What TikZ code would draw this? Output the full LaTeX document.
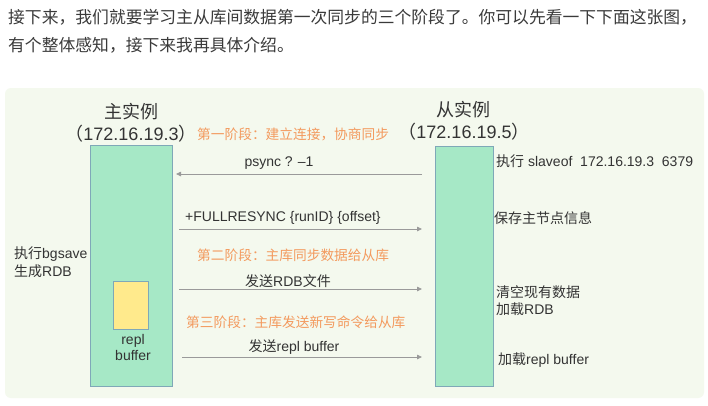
\documentclass[tikz,border=0pt]{standalone}
\usepackage{fontspec}
\setmainfont{Liberation Sans}
\newfontfamily\cjk{Noto Sans CJK SC}
\usetikzlibrary{arrows.meta}
\definecolor{panel}{HTML}{F4F9EE}
\definecolor{barfill}{HTML}{A6E8C6}
\definecolor{barline}{HTML}{7FA8B8}
\definecolor{buf}{HTML}{FFEA8C}
\definecolor{phase}{HTML}{F39A5E}
\definecolor{arr}{HTML}{9A9A9A}
\definecolor{txt}{HTML}{333333}
\definecolor{intro}{HTML}{3A3A3A}
\tikzset{
  bar/.style={draw=barline, fill=barfill, line width=1pt, inner sep=0pt},
  bufbox/.style={draw=barline, fill=buf, line width=0.9pt, inner sep=0pt},
  title/.style={font=\fontsize{18}{19}\selectfont, text=txt, inner sep=0pt},
  phaselbl/.style={font=\cjk\fontsize{13.7}{15}\selectfont, text=phase, inner sep=0pt},
  lbl/.style={font=\fontsize{14}{15}\selectfont, text=txt, inner sep=0pt},
  msg/.style={draw=arr, line width=0.8pt, -{Triangle[length=5pt,width=4.5pt]}},
  introtxt/.style={font=\cjk\fontsize{16.8}{18}\selectfont, text=intro, inner sep=0pt, anchor=west}
}
\begin{document}
\begin{tikzpicture}[x=1pt,y=-1pt]
\useasboundingbox (0,0) rectangle (708,405);
\fill[white] (0,0) rectangle (708,405);
% intro text
\node[introtxt] (l1) at (8,17) {接下来，我们就要学习主从库间数据第一次同步的三个阶段了。你可以先看一下下面这张图，};
\node[introtxt] (l2) at (8,45) {有个整体感知，接下来我再具体介绍。};
% panel
\fill[panel, rounded corners=6pt] (5,88) rectangle (704,398);
% bars
\node[bar, minimum width=82pt, minimum height=241pt] (master) at (131,265.5) {};
\node[bar, minimum width=58pt, minimum height=240pt] (slave) at (464,266) {};
\node[bufbox, minimum width=35pt, minimum height=48pt] (buffer) at (130.5,305) {};
\node[lbl, align=center, font=\fontsize{14}{16}\selectfont] (buflbl) at (133,347) {repl\\buffer};
% titles
\node[title] (mt1) at (131,112) {\cjk 主实例};
\node[title] (mt2) at (131,134) {{\cjk（}172.16.19.3{\cjk）}};
\node[title] (st1) at (463,110) {\cjk 从实例};
\node[title] (st2) at (464,132) {{\cjk（}172.16.19.5{\cjk）}};
% phase labels
\node[phaselbl, anchor=west] (p1) at (197,134) {第一阶段：建立连接，协商同步};
\node[phaselbl, anchor=west] (p2) at (197,255) {第二阶段：主库同步数据给从库};
\node[phaselbl, anchor=west] (p3) at (186,322) {第三阶段：主库发送新写命令给从库};
% message arrows
\coordinate (a1s) at (422,174); \coordinate (a1e) at (176,174);
\draw[msg] (a1s) -- (a1e);
\node[lbl] (m1) at (279,163) {psync ? –1};
\coordinate (a2s) at (179,229); \coordinate (a2e) at (422,229);
\draw[msg] (a2s) -- (a2e);
\node[lbl, anchor=west] (m2) at (185,218) {+FULLRESYNC \{runID\} \{offset\}};
\coordinate (a3s) at (179,289); \coordinate (a3e) at (422,289);
\draw[msg] (a3s) -- (a3e);
\node[lbl] (m3) at (288,281) {{\cjk 发送}RDB{\cjk 文件}};
\coordinate (a4s) at (182,357); \coordinate (a4e) at (422,357);
\draw[msg] (a4s) -- (a4e);
\node[lbl] (m4) at (294,347) {{\cjk 发送}repl buffer};
% side labels
\node[lbl, anchor=west] (r1) at (496,161) {{\cjk 执行} slaveof\ \ 172.16.19.3\ \ 6379};
\node[lbl, anchor=west] (r2) at (494,218) {\cjk 保存主节点信息};
\node[lbl, anchor=west] (r3) at (496,292) {\cjk 清空现有数据};
\node[lbl, anchor=west] (r4) at (496,309) {{\cjk 加载}RDB};
\node[lbl, anchor=west] (r5) at (498,360) {{\cjk 加载}repl buffer};
\node[lbl, anchor=west] (b1) at (14,254) {{\cjk 执行}bgsave};
\node[lbl, anchor=west] (b2) at (14,271) {{\cjk 生成}RDB};
\end{tikzpicture}
\end{document}
